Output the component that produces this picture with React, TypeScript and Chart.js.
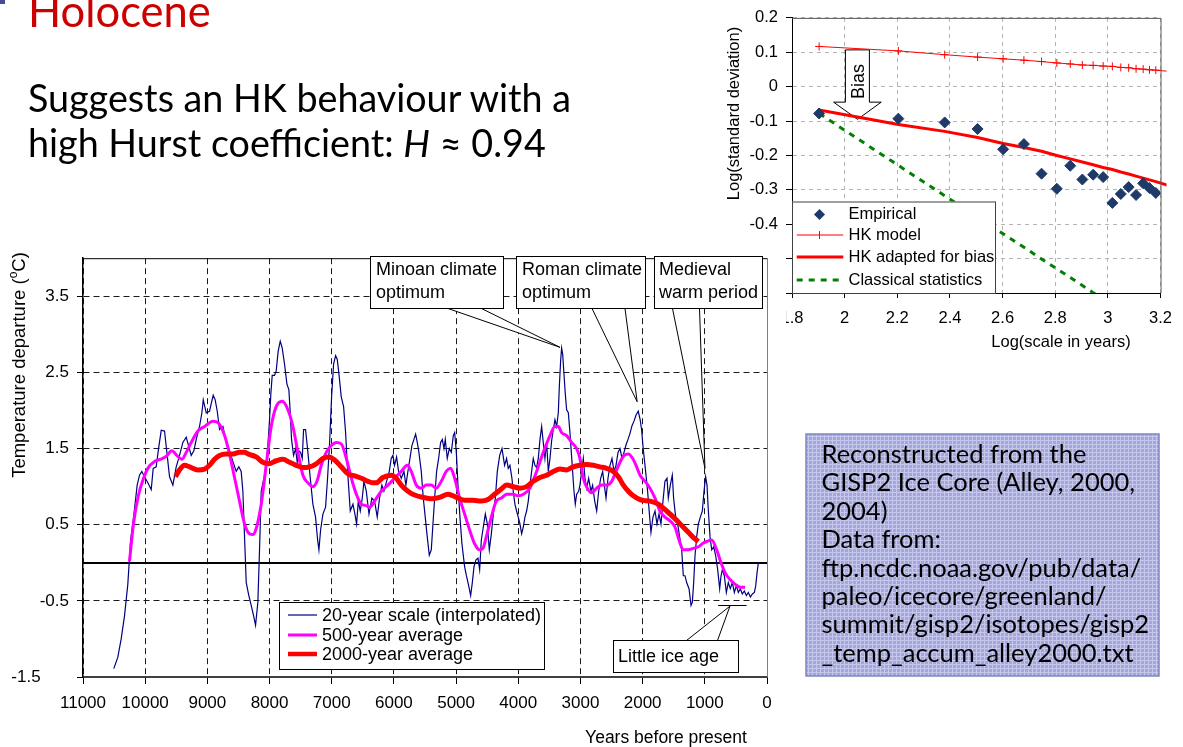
import React, { useEffect, useRef } from 'react';
import { Chart, registerables } from 'chart.js';

Chart.register(...registerables);

const FONT = "'Liberation Sans', Arial, Helvetica, sans-serif";
const SLIDE_FONT = "Lato, 'Open Sans', sans-serif";

// ---------------- Main chart: GISP2 temperature reconstruction ----------------
const years20 = [
  10505, 10440, 10386, 10333, 10279, 10236, 10182, 10129, 10091, 10054, 10011, 9957, 9903, 9871, 9823, 9785,
  9742, 9689, 9646, 9608, 9555, 9501, 9447, 9394, 9340, 9303, 9260, 9217, 9179, 9126, 9088, 9066, 9018, 8965,
  8938, 8906, 8874, 8841, 8804, 8750, 8707, 8659, 8605, 8536, 8494, 8456, 8429, 8402, 8375, 8333, 8295, 8258,
  8225, 8188, 8161, 8134, 8107, 8064, 8027, 8000, 7979, 7957, 7920, 7893, 7861, 7828, 7796, 7759, 7721, 7689,
  7667, 7646, 7614, 7581, 7555, 7528, 7501, 7474, 7453, 7421, 7383, 7345, 7303, 7260, 7227, 7206, 7179, 7142,
  7099, 7067, 7034, 7002, 6970, 6938, 6911, 6884, 6847, 6809, 6777, 6755, 6734, 6702, 6659, 6627, 6600, 6573,
  6541, 6509, 6482, 6444, 6401, 6354, 6311, 6268, 6231, 6193, 6161, 6118, 6075, 6043, 6016, 5989, 5957, 5925,
  5882, 5839, 5807, 5775, 5742, 5710, 5678, 5651, 5624, 5598, 5560, 5528, 5496, 5464, 5431, 5399, 5372, 5345,
  5313, 5281, 5249, 5222, 5195, 5174, 5142, 5109, 5077, 5045, 5023, 4996, 4970, 4938, 4906, 4863, 4834, 4798,
  4766, 4739, 4712, 4680, 4648, 4621, 4594, 4562, 4530, 4498, 4466, 4433, 4401, 4369, 4337, 4299, 4262, 4220,
  4188, 4161, 4134, 4102, 4081, 4054, 4027, 4000, 3973, 3946, 3919, 3893, 3866, 3839, 3812, 3785, 3759, 3732,
  3705, 3678, 3651, 3624, 3598, 3571, 3544, 3517, 3490, 3464, 3437, 3410, 3383, 3356, 3340, 3319, 3303, 3286,
  3265, 3244, 3222, 3195, 3169, 3147, 3126, 3104, 3083, 3061, 3029, 3008, 2981, 2954, 2927, 2900, 2868, 2832,
  2804, 2771, 2739, 2707, 2675, 2643, 2616, 2589, 2557, 2525, 2493, 2460, 2428, 2396, 2364, 2332, 2299, 2267,
  2235, 2203, 2171, 2139, 2106, 2071, 2040, 2017, 1991, 1952, 1920, 1887, 1866, 1834, 1801, 1769, 1737, 1705,
  1673, 1641, 1608, 1587, 1555, 1523, 1502, 1469, 1437, 1405, 1372, 1346, 1319, 1292, 1254, 1222, 1201, 1179,
  1158, 1131, 1104, 1072, 1040, 1013, 987, 965, 943, 916, 889, 857, 825, 793, 761, 739, 718, 686, 654, 622, 590,
  557, 525, 493, 461, 429, 397, 365, 332, 300, 267, 235, 203, 181, 160, 139,
];
const temp20 = [
  -1.39, -1.24, -1.0, -0.7, -0.28, 0.28, 0.63, 1.02, 1.15, 1.2, 1.13, 1.05, 0.96, 1.24, 1.26, 1.5,
  1.74, 1.73, 1.41, 1.13, 1.02, 1.26, 1.41, 1.58, 1.65, 1.54, 1.41, 1.47, 1.62, 1.79, 1.97, 2.14, 1.97, 1.99,
  2.09, 2.2, 2.14, 1.99, 1.75, 1.79, 1.62, 1.47, 1.37, 1.2, 1.26, 1.2, 0.94, 0.34, -0.26, -0.43, -0.56, -0.69,
  -0.82, -0.52, 0.17, 0.94, 1.05, 1.2, 1.54, 1.88, 2.22, 2.46, 2.46, 2.52, 2.78, 2.91, 2.82, 2.61, 2.35, 2.27,
  1.97, 1.62, 1.41, 1.5, 1.32, 1.47, 1.45, 1.37, 1.75, 1.75, 1.45, 1.11, 0.77, 0.6, 0.3, 0.17, 0.43, 0.64,
  0.73, 1.11, 1.58, 2.18, 2.61, 2.72, 2.67, 2.48, 2.18, 2.05, 1.71, 1.37, 1.07, 0.68, 0.77, 0.64, 0.51, 0.81,
  0.68, 0.85, 1.07, 0.94, 0.64, 0.85, 0.81, 0.6, 0.85, 1.02, 0.94, 1.07, 1.2, 1.37, 1.41, 1.28, 1.39, 1.2,
  1.11, 1.2, 1.02, 1.2, 1.37, 1.54, 1.62, 1.69, 1.58, 1.45, 1.2, 0.85, 0.6, 0.34, 0.1, 0.17, 0.51, 0.85,
  1.2, 1.37, 1.58, 1.62, 1.5, 1.62, 1.37, 1.5, 1.45, 1.67, 1.71, 1.45, 1.02, 0.6, 0.25, -0.05, -0.17, -0.3,
  -0.43, -0.26, -0.05, 0.04, 0.06, -0.09, 0.3, 0.47, 0.64, 0.51, 0.17, 0.38, 0.64, 0.85, 1.2, 1.41, 1.5, 1.28,
  1.37, 1.24, 1.28, 1.11, 0.94, 0.77, 0.68, 0.6, 0.51, 0.38, 0.47, 0.6, 0.68, 0.81, 1.02, 1.2, 1.37, 1.28,
  1.25, 1.37, 1.62, 1.79, 1.58, 1.37, 1.58, 1.2, 1.37, 1.6, 1.75, 1.88, 1.79, 1.97, 2.31, 2.65, 2.82, 2.74,
  2.48, 2.22, 2.01, 1.97, 1.71, 1.45, 1.2, 0.94, 0.77, 0.9, 0.94, 1.02, 1.2, 1.37, 1.11, 0.98, 1.11, 0.94,
  1.02, 0.81, 0.68, 0.94, 1.11, 1.2, 1.02, 0.85, 1.11, 1.28, 1.37, 1.2, 1.28, 1.45, 1.5, 1.37, 1.45, 1.55,
  1.62, 1.7, 1.8, 1.86, 1.94, 1.99, 1.88, 1.75, 1.5, 1.2, 0.94, 0.6, 0.4, 0.6, 0.68, 0.51, 0.64, 0.51,
  0.81, 1.07, 1.11, 0.85, 1.02, 1.15, 0.85, 0.6, 0.51, 0.34, 0.17, -0.17, -0.17, -0.26, -0.34, -0.56, -0.52, -0.26,
  0.09, 0.34, 0.51, 0.6, 0.68, 0.94, 1.13, 1.02, 0.68, 0.34, 0.17, 0.21, 0.09, -0.09, -0.34, -0.17, -0.09, -0.17, -0.39, -0.26, -0.34,
  -0.26, -0.39, -0.3, -0.39, -0.34, -0.41, -0.37, -0.43, -0.39, -0.45, -0.41, -0.39, -0.3, -0.13, 0.0,
];
const years500 = [
  10252, 10190, 10110, 10030, 9950, 9850, 9750, 9660, 9571, 9480, 9410, 9340, 9260, 9152, 9045, 8911, 8830,
  8750, 8670, 8589, 8483, 8402, 8322, 8268, 8215, 8134, 8054, 7973, 7893, 7796, 7705, 7624, 7544, 7463, 7383,
  7302, 7238, 7168, 7088, 7007, 6926, 6845, 6765, 6684, 6604, 6523, 6443, 6392, 6311, 6204, 6097, 5989, 5882,
  5785, 5721, 5640, 5560, 5480, 5399, 5319, 5238, 5158, 5088, 5023, 4943, 4863, 4782, 4702, 4621, 4568, 4514,
  4433, 4353, 4273, 4188, 4081, 4000, 3919, 3812, 3705, 3598, 3490, 3410, 3356, 3303, 3222, 3142, 3061, 3008,
  2954, 2890, 2820, 2739, 2659, 2579, 2498, 2428, 2364, 2299, 2230, 2160, 2096, 2042, 1962, 1882, 1801, 1721,
  1641, 1560, 1480, 1415, 1346, 1265, 1185, 1104, 1024, 970, 889, 809, 739, 675, 595, 515, 434, 353,
];
const temp500 = [
  0.02, 0.5, 0.88, 1.1, 1.25, 1.33, 1.36, 1.4, 1.47, 1.4, 1.36, 1.45, 1.58, 1.73, 1.79, 1.86, 1.84,
  1.73, 1.52, 1.22, 0.81, 0.51, 0.38, 0.37, 0.45, 0.77, 1.28, 1.79, 2.05, 2.12, 2.01, 1.79, 1.45, 1.15, 1.05,
  1.0, 1.07, 1.28, 1.45, 1.54, 1.58, 1.56, 1.37, 1.11, 0.9, 0.77, 0.75, 0.73, 0.81, 0.94, 1.02, 1.11, 1.2,
  1.28, 1.2, 1.02, 0.98, 1.02, 1.02, 0.98, 1.07, 1.2, 1.24, 1.11, 0.85, 0.64, 0.43, 0.25, 0.17, 0.19, 0.34,
  0.6, 0.81, 0.85, 0.9, 0.9, 0.88, 0.9, 0.98, 1.2, 1.45, 1.67, 1.79, 1.79, 1.71, 1.67, 1.58, 1.5, 1.37,
  1.11, 0.98, 0.92, 0.98, 1.02, 1.02, 1.07, 1.2, 1.32, 1.41, 1.43, 1.37, 1.26, 1.15, 1.07, 0.98, 0.85, 0.68,
  0.6, 0.55, 0.47, 0.3, 0.17, 0.17, 0.19, 0.21, 0.26, 0.28, 0.3, 0.17, 0.0, -0.13, -0.22, -0.28, -0.32, -0.32,
];
const years2000 = [
  9512, 9447, 9367, 9286, 9152, 9045, 8965, 8884, 8804, 8696, 8589, 8483, 8402, 8349, 8215, 8107, 8011, 7893,
  7785, 7678, 7571, 7463, 7356, 7249, 7142, 7045, 6954, 6847, 6740, 6632, 6524, 6417, 6336, 6284, 6177, 6043,
  5962, 5882, 5775, 5667, 5533, 5399, 5265, 5131, 4996, 4863, 4729, 4594, 4487, 4380, 4273, 4188, 4081, 3973,
  3866, 3759, 3651, 3544, 3437, 3329, 3222, 3115, 3008, 2900, 2793, 2686, 2579, 2471, 2391, 2310, 2230, 2150,
  2042, 1989, 1882, 1748, 1614, 1480, 1372, 1265, 1168, 1104,
];
const temp2000 = [
  1.13, 1.22, 1.28, 1.26, 1.22, 1.23, 1.28, 1.36, 1.41, 1.43, 1.43, 1.45, 1.45, 1.43, 1.39, 1.32, 1.3, 1.34,
  1.36, 1.32, 1.28, 1.25, 1.26, 1.3, 1.37, 1.39, 1.35, 1.26, 1.17, 1.14, 1.11, 1.07, 1.05, 1.05, 1.12, 1.15,
  1.11, 1.02, 0.94, 0.89, 0.86, 0.84, 0.86, 0.9, 0.86, 0.82, 0.82, 0.81, 0.83, 0.9, 0.97, 1.02, 1.0, 0.98,
  1.0, 1.07, 1.12, 1.15, 1.2, 1.23, 1.22, 1.26, 1.28, 1.29, 1.28, 1.26, 1.24, 1.2, 1.13, 1.02, 0.94, 0.88,
  0.83, 0.82, 0.81, 0.77, 0.68, 0.58, 0.49, 0.4, 0.32, 0.28,
];
const mainXTicks = [11000, 10000, 9000, 8000, 7000, 6000, 5000, 4000, 3000, 2000, 1000, 0];
const mainYTicks = [-1.5, -0.5, 0.5, 1.5, 2.5, 3.5];
const mainLegend = ['20-year scale (interpolated)', '500-year average', '2000-year average'];

// ---------------- Right chart: climacogram ----------------
const logScale = [1.903, 2.204, 2.38, 2.505, 2.602, 2.681, 2.748, 2.806, 2.857, 2.903, 2.944, 2.982, 3.017, 3.049, 3.079, 3.107, 3.134, 3.158, 3.182];
const empirical = [-0.078, -0.093, -0.104, -0.123, -0.182, -0.167, -0.253, -0.297, -0.23, -0.27, -0.256, -0.263, -0.338, -0.312, -0.292, -0.315, -0.281, -0.295, -0.309];
const lineScale = [1.903, 2.204, 2.38, 2.505, 2.602, 2.681, 2.748, 2.806, 2.857, 2.903, 2.944, 2.982, 3.017, 3.049, 3.079, 3.107, 3.134, 3.158, 3.182, 3.225];
const hkModel = [0.117, 0.104, 0.093, 0.086, 0.081, 0.077, 0.073, 0.069, 0.066, 0.063, 0.062, 0.06, 0.059, 0.056, 0.055, 0.052, 0.051, 0.049, 0.048, 0.045];
const hkAdapted = [-0.068, -0.11, -0.13, -0.148, -0.165, -0.177, -0.188, -0.2, -0.21, -0.219, -0.227, -0.235, -0.241, -0.248, -0.254, -0.26, -0.266, -0.271, -0.276, -0.286];
const classicalScale = [1.903, 2.204, 2.38, 2.505, 2.602, 2.681, 2.748, 2.806, 2.857, 2.903, 2.944, 2.982];
const classical = [-0.078, -0.229, -0.317, -0.379, -0.428, -0.467, -0.501, -0.53, -0.555, -0.578, -0.599, -0.618];
const rightXTicks = [1.8, 2, 2.2, 2.4, 2.6, 2.8, 3, 3.2];
const rightYTicks = [0.2, 0.1, 0, -0.1, -0.2, -0.3, -0.4, -0.5, -0.6];
const rightLegend = ['Empirical', 'HK model', 'HK adapted for bias', 'Classical statistics'];

const noteLines = [
  'Reconstructed from the',
  'GISP2 Ice Core (Alley, 2000,',
  '2004)',
  'Data from:',
  'ftp.ncdc.noaa.gov/pub/data/',
  'paleo/icecore/greenland/',
  'summit/gisp2/isotopes/gisp2',
  '_temp_accum_alley2000.txt',
];

const pts = (xs: number[], ys: number[]) => xs.map((x, i) => ({ x, y: ys[i] }));

function MainChart() {
  const ref = useRef<HTMLCanvasElement | null>(null);
  useEffect(() => {
    const canvas = ref.current;
    if (!canvas) return;
    const overlay = {
      id: 'mainOverlay',
      beforeDraw(chart: any) {
        const { ctx, width, height } = chart;
        ctx.save();
        ctx.fillStyle = '#ffffff';
        ctx.fillRect(0, 0, width, height);
        ctx.restore();
      },
      beforeDatasetsDraw(chart: any) {
        const { ctx, chartArea: ca, scales } = chart;
        const y0 = Math.round(scales.y.getPixelForValue(0));
        ctx.save();
        ctx.strokeStyle = '#000';
        ctx.lineWidth = 2;
        ctx.beginPath();
        ctx.moveTo(ca.left, y0);
        ctx.lineTo(ca.right, y0);
        ctx.stroke();
        ctx.restore();
      },
      afterDraw(chart: any) {
        const { ctx, chartArea: ca, scales } = chart;
        const xs = scales.x;
        const ys = scales.y;
        ctx.save();
        ctx.lineWidth = 1;
        ctx.strokeStyle = '#000';
        ctx.beginPath();
        ctx.moveTo(ca.left, ca.top + 0.5);
        ctx.lineTo(ca.right, ca.top + 0.5);
        ctx.stroke();
        ctx.strokeStyle = '#808080';
        ctx.beginPath();
        ctx.moveTo(ca.right + 0.5, ca.top);
        ctx.lineTo(ca.right + 0.5, ca.bottom);
        ctx.stroke();

        // legend
        const lx = 279, ly = 362, lw = 265, lh = 67;
        ctx.fillStyle = '#fff';
        ctx.fillRect(lx, ly, lw, lh);
        ctx.strokeStyle = '#000';
        ctx.lineWidth = 1;
        ctx.strokeRect(lx + 0.5, ly + 0.5, lw, lh);
        const rows = [375, 395, 414];
        const styles = [
          { c: '#000080', w: 1.2 },
          { c: '#ff00ff', w: 3 },
          { c: '#ff0000', w: 4.5 },
        ];
        ctx.font = `18px ${FONT}`;
        ctx.textBaseline = 'middle';
        ctx.textAlign = 'left';
        mainLegend.forEach((t, i) => {
          ctx.strokeStyle = styles[i].c;
          ctx.lineWidth = styles[i].w;
          ctx.beginPath();
          ctx.moveTo(288, rows[i]);
          ctx.lineTo(317, rows[i]);
          ctx.stroke();
          ctx.fillStyle = '#000';
          ctx.fillText(t, 322, rows[i] + 1);
        });

        // callouts
        const callouts = [
          { box: [370.5, 16.5, 133, 52], base: [448, 481.5, 68.5], tip: [3330, 2.83], lines: ['Minoan climate', 'optimum'], tx: 376 },
          { box: [516.5, 16.5, 129, 52], base: [592, 625, 68.5], tip: [2088, 2.115], lines: ['Roman climate', 'optimum'], tx: 522 },
          { box: [654.5, 16.5, 108, 52], base: [672.5, 699.5, 68.5], tip: [998, 1.24], lines: ['Medieval', 'warm period'], tx: 659 },
          { box: [613.5, 400.5, 125, 32], base: [686.5, 717.5, 400.5], tip: [596, -0.57], lines: ['Little ice age'], tx: 618 },
        ];
        ctx.font = `18px ${FONT}`;
        callouts.forEach((c) => {
          const tx = xs.getPixelForValue(c.tip[0]);
          const ty = ys.getPixelForValue(c.tip[1]);
          ctx.beginPath();
          ctx.moveTo(c.base[0], c.base[2]);
          ctx.lineTo(tx, ty);
          ctx.lineTo(c.base[1], c.base[2]);
          ctx.closePath();
          ctx.fillStyle = '#fff';
          ctx.fill();
          ctx.beginPath();
          ctx.moveTo(c.base[0], c.base[2]);
          ctx.lineTo(tx, ty);
          ctx.lineTo(c.base[1], c.base[2]);
          ctx.strokeStyle = '#000';
          ctx.lineWidth = 1;
          ctx.stroke();
          ctx.fillStyle = '#fff';
          ctx.fillRect(c.box[0], c.box[1], c.box[2], c.box[3]);
          ctx.strokeRect(c.box[0], c.box[1], c.box[2], c.box[3]);
          ctx.fillStyle = '#000';
          ctx.textBaseline = 'middle';
          if (c.lines.length === 2) {
            ctx.fillText(c.lines[0], c.tx, c.box[1] + 14);
            ctx.fillText(c.lines[1], c.tx, c.box[1] + 37);
          } else {
            ctx.fillText(c.lines[0], c.tx, c.box[1] + 16.5);
          }
        });
        const yl = Math.round(ys.getPixelForValue(-0.56)) + 0.5;
        ctx.beginPath();
        ctx.moveTo(xs.getPixelForValue(786), yl);
        ctx.lineTo(xs.getPixelForValue(328), yl);
        ctx.stroke();

        // axis titles
        ctx.font = `17.5px ${FONT}`;
        ctx.textAlign = 'center';
        ctx.textBaseline = 'middle';
        ctx.fillText('Years before present', 666, 498);

        ctx.translate(18, 125);
        ctx.rotate(-Math.PI / 2);
        ctx.textAlign = 'left';
        ctx.textBaseline = 'alphabetic';
        const f1 = `18.5px ${FONT}`;
        const f2 = `12px ${FONT}`;
        const p1 = 'Temperature departure (';
        const p2 = 'o';
        const p3 = 'C)';
        ctx.font = f1;
        const w1 = ctx.measureText(p1).width;
        const w3 = ctx.measureText(p3).width;
        ctx.font = f2;
        const w2 = ctx.measureText(p2).width;
        let px = -(w1 + w2 + w3) / 2;
        ctx.font = f1;
        ctx.fillText(p1, px, 6.5);
        px += w1;
        ctx.font = f2;
        ctx.fillText(p2, px, -1);
        px += w2;
        ctx.font = f1;
        ctx.fillText(p3, px, 6.5);
        ctx.restore();
      },
    };

    const chart = new Chart(canvas, {
      type: 'scatter',
      data: {
        datasets: [
          {
            label: mainLegend[2],
            data: pts(years2000, temp2000),
            showLine: true,
            borderColor: '#ff0000',
            backgroundColor: '#ff0000',
            borderWidth: 5,
            pointRadius: 0,
            cubicInterpolationMode: 'monotone',
          },
          {
            label: mainLegend[1],
            data: pts(years500, temp500),
            showLine: true,
            borderColor: '#ff00ff',
            backgroundColor: '#ff00ff',
            borderWidth: 3,
            pointRadius: 0,
            cubicInterpolationMode: 'monotone',
          },
          {
            label: mainLegend[0],
            data: pts(years20, temp20),
            showLine: true,
            borderColor: '#000080',
            backgroundColor: '#000080',
            borderWidth: 1.2,
            pointRadius: 0,
            tension: 0,
          },
        ],
      } as any,
      options: {
        responsive: false,
        animation: false,
        events: [],
        layout: { padding: { left: 0, right: 19, top: 8, bottom: 0 } },
        plugins: { legend: { display: false }, tooltip: { enabled: false }, title: { display: false } },
        scales: {
          x: {
            type: 'linear',
            reverse: true,
            min: 0,
            max: 11000,
            afterBuildTicks: (s: any) => {
              s.ticks = mainXTicks.map((v) => ({ value: v }));
            },
            afterFit: (s: any) => {
              s.height = 78;
            },
            ticks: {
              color: '#000',
              font: { family: FONT, size: 17 },
              padding: 9,
              maxRotation: 0,
              autoSkip: false,
              callback: (v: any) => String(v),
            },
            grid: { color: '#1a1a1a', lineWidth: 1, tickLength: 7, tickColor: '#000', drawTicks: true },
            border: { display: true, color: '#404040', width: 2, dash: [6, 4] },
          },
          y: {
            type: 'linear',
            min: -1.5,
            max: 4,
            afterBuildTicks: (s: any) => {
              s.ticks = mainYTicks.map((v) => ({ value: v }));
            },
            afterFit: (s: any) => {
              s.width = 83;
            },
            ticks: {
              color: '#000',
              font: { family: FONT, size: 17 },
              padding: 8,
              autoSkip: false,
              callback: (v: any) => {
                const s = Number(v).toFixed(1);
                return Number(v) === -1.5 ? s + '      ' : s;
              },
            },
            grid: { color: '#1a1a1a', lineWidth: 1, tickLength: 6, tickColor: '#000', drawTicks: true },
            border: { display: true, color: '#000', width: 1.5, dash: [6, 4] },
          },
        },
      } as any,
      plugins: [overlay],
    });
    return () => chart.destroy();
  }, []);
  return (
    <canvas
      ref={ref}
      width={786}
      height={515}
      style={{ position: 'absolute', left: 0, top: 240, width: 786, height: 515 }}
    />
  );
}

function RightChart() {
  const ref = useRef<HTMLCanvasElement | null>(null);
  useEffect(() => {
    const canvas = ref.current;
    if (!canvas) return;
    const overlay = {
      id: 'rightOverlay',
      beforeDatasetsDraw(chart: any) {
        const { ctx, scales } = chart;
        const X = (v: number) => scales.x.getPixelForValue(v);
        const Y = (v: number) => scales.y.getPixelForValue(v);
        ctx.save();
        ctx.beginPath();
        ctx.moveTo(X(2.003), Y(0.107));
        ctx.lineTo(X(2.094), Y(0.107));
        ctx.lineTo(X(2.094), Y(-0.045));
        ctx.lineTo(X(2.139), Y(-0.045));
        ctx.lineTo(X(2.049), Y(-0.095));
        ctx.lineTo(X(1.958), Y(-0.045));
        ctx.lineTo(X(2.003), Y(-0.045));
        ctx.closePath();
        ctx.fillStyle = '#fff';
        ctx.fill();
        ctx.strokeStyle = '#000';
        ctx.lineWidth = 1;
        ctx.stroke();
        ctx.translate(X(2.05), Y(0.015));
        ctx.rotate(-Math.PI / 2);
        ctx.font = `18px ${FONT}`;
        ctx.fillStyle = '#000';
        ctx.textAlign = 'center';
        ctx.textBaseline = 'middle';
        ctx.fillText('Bias', 0, 1);
        ctx.restore();
      },
      afterDatasetsDraw(chart: any) {
        const { ctx, chartArea: ca } = chart;
        ctx.save();
        const lx = ca.left, ly = 201.5, lw = 203, lh = ca.bottom - 201.5;
        ctx.fillStyle = '#fff';
        ctx.fillRect(lx, ly, lw, lh);
        ctx.strokeStyle = '#404040';
        ctx.lineWidth = 1;
        ctx.strokeRect(lx + 0.5, ly + 0.5, lw, lh);
        const rows = [214.5, 235, 257, 280];
        const x1 = 96.7, x2 = 143.3, mx = 119.5;
        ctx.fillStyle = '#1f3a68';
        ctx.beginPath();
        ctx.moveTo(mx, rows[0] - 5.5);
        ctx.lineTo(mx + 5.5, rows[0]);
        ctx.lineTo(mx, rows[0] + 5.5);
        ctx.lineTo(mx - 5.5, rows[0]);
        ctx.closePath();
        ctx.fill();
        ctx.strokeStyle = '#ff0000';
        ctx.lineWidth = 1;
        ctx.beginPath();
        ctx.moveTo(x1, rows[1]);
        ctx.lineTo(x2, rows[1]);
        ctx.moveTo(mx, rows[1] - 4);
        ctx.lineTo(mx, rows[1] + 4);
        ctx.stroke();
        ctx.lineWidth = 3;
        ctx.beginPath();
        ctx.moveTo(x1, rows[2]);
        ctx.lineTo(x2, rows[2]);
        ctx.stroke();
        ctx.strokeStyle = '#008000';
        ctx.setLineDash([6, 6]);
        ctx.beginPath();
        ctx.moveTo(x1, rows[3]);
        ctx.lineTo(x2, rows[3]);
        ctx.stroke();
        ctx.setLineDash([]);
        ctx.fillStyle = '#000';
        ctx.font = `16.5px ${FONT}`;
        ctx.textAlign = 'left';
        ctx.textBaseline = 'middle';
        rightLegend.forEach((t, i) => ctx.fillText(t, 148.5, rows[i]));
        ctx.restore();
      },
      afterDraw(chart: any) {
        const { ctx, chartArea: ca } = chart;
        ctx.save();
        ctx.strokeStyle = '#595959';
        ctx.lineWidth = 1;
        ctx.beginPath();
        ctx.moveTo(ca.left, ca.top + 0.5);
        ctx.lineTo(ca.right + 0.5, ca.top + 0.5);
        ctx.lineTo(ca.right + 0.5, ca.bottom);
        ctx.stroke();
        ctx.fillStyle = '#000';
        ctx.font = `16.5px ${FONT}`;
        ctx.textAlign = 'center';
        ctx.textBaseline = 'middle';
        ctx.fillText('Log(scale in years)', 361, 342.5);
        ctx.translate(34, 113.5);
        ctx.rotate(-Math.PI / 2);
        ctx.fillText('Log(standard deviation)', 0, 0);
        ctx.restore();
      },
    };
    const chart = new Chart(canvas, {
      type: 'scatter',
      data: {
        datasets: [
          {
            label: rightLegend[0],
            data: pts(logScale, empirical),
            showLine: false,
            pointStyle: 'rectRot',
            pointRadius: 5.5,
            backgroundColor: '#1f3a68',
            borderColor: '#1f3a68',
            borderWidth: 1,
          },
          {
            label: rightLegend[1],
            data: pts(lineScale, hkModel),
            showLine: true,
            borderColor: '#ff0000',
            borderWidth: 1,
            pointStyle: 'cross',
            pointRadius: (c: any) => (c.dataIndex < logScale.length ? 4 : 0),
            pointBorderColor: '#ff0000',
            pointBorderWidth: 1,
            clip: { left: 0, top: 0, right: 6, bottom: 0 },
          },
          {
            label: rightLegend[2],
            data: pts(lineScale, hkAdapted),
            showLine: true,
            borderColor: '#ff0000',
            borderWidth: 3,
            pointRadius: 0,
            clip: { left: 0, top: 0, right: 6, bottom: 0 },
          },
          {
            label: rightLegend[3],
            data: pts(classicalScale, classical),
            showLine: true,
            borderColor: '#008000',
            borderWidth: 3,
            borderDash: [6, 6],
            pointRadius: 0,
          },
        ],
      } as any,
      options: {
        responsive: false,
        animation: false,
        events: [],
        layout: { padding: { left: 0, right: 22, top: 14, bottom: 0 } },
        plugins: { legend: { display: false }, tooltip: { enabled: false } },
        scales: {
          x: {
            type: 'linear',
            min: 1.8,
            max: 3.2,
            afterBuildTicks: (s: any) => {
              s.ticks = rightXTicks.map((v) => ({ value: v }));
            },
            afterFit: (s: any) => {
              s.height = 67;
            },
            ticks: {
              color: '#000',
              font: { family: FONT, size: 16.5 },
              padding: 11,
              maxRotation: 0,
              autoSkip: false,
              callback: (v: any) => String(Math.round(Number(v) * 10) / 10),
            },
            grid: { color: '#b3b3b3', lineWidth: 1, tickLength: 5, tickColor: '#000' },
            border: { display: true, color: '#000', width: 1, dash: [4, 4] },
          },
          y: {
            type: 'linear',
            min: -0.6,
            max: 0.2,
            afterBuildTicks: (s: any) => {
              s.ticks = rightYTicks.map((v) => ({ value: v }));
            },
            afterFit: (s: any) => {
              s.width = 92;
            },
            ticks: {
              color: '#000',
              font: { family: FONT, size: 16.5 },
              padding: 8,
              autoSkip: false,
              callback: (v: any) => {
                const r = Math.round(Number(v) * 10) / 10;
                return r === 0 ? '0' : r.toFixed(1);
              },
            },
            grid: { color: '#b3b3b3', lineWidth: 1, tickLength: 6, tickColor: '#000' },
            border: { display: true, color: '#000', width: 1, dash: [4, 4] },
          },
        },
      } as any,
      plugins: [overlay],
    });
    return () => chart.destroy();
  }, []);
  return (
    <canvas
      ref={ref}
      width={483}
      height={360}
      style={{ position: 'absolute', left: 700, top: 0, width: 483, height: 360 }}
    />
  );
}

export default function App() {
  return (
    <div
      style={{
        position: 'fixed',
        left: 0,
        top: 0,
        width: 1183,
        height: 747,
        background: '#ffffff',
        overflow: 'hidden',
      }}
    >
      <RightChart />
      <MainChart />
      <svg width={1183} height={747} style={{ position: 'absolute', left: 0, top: 0 }}>
        <defs>
          <pattern id="noteGrid" width="4" height="4" patternUnits="userSpaceOnUse">
            <rect width="4" height="4" fill="#a3a6d9" />
            <path d="M0 0.5 H4 M0.5 0 V4" stroke="#c5c7ec" strokeWidth="1" />
          </pattern>
        </defs>
        <rect x={0} y={0} width={5} height={4} fill="#4a4a9a" />
        <text x={28} y={27} fill="#cc0000" fontFamily={SLIDE_FONT} fontSize={43.5}>
          Holocene
        </text>
        <text x={28} y={112} fill="#000" fontFamily={SLIDE_FONT} fontSize={37.7}>
          Suggests an HK behaviour with a
        </text>
        <text x={28} y={157} fill="#000" fontFamily={SLIDE_FONT} fontSize={37.7}>
          high Hurst coefficient: <tspan fontStyle="italic">H</tspan> ≈ 0.94
        </text>
        <rect x={806} y={434} width={353} height={242} fill="url(#noteGrid)" stroke="#8286c2" strokeWidth={1.5} />
        {noteLines.map((t, i) => (
          <text key={i} x={821.5} y={463 + i * 28.4} fill="#000" fontFamily={SLIDE_FONT} fontSize={25.5}>
            {t}
          </text>
        ))}
      </svg>
    </div>
  );
}
